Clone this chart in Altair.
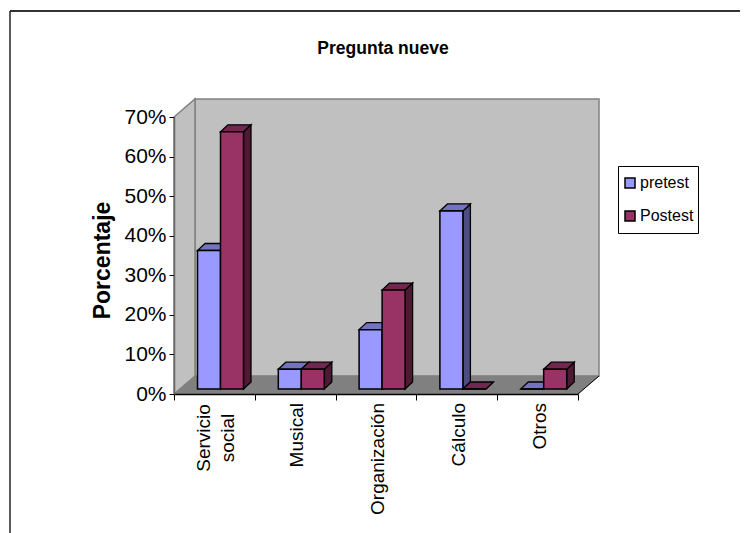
import altair as alt
import pandas as pd

categories = ["Servicio social", "Musical", "Organización", "Cálculo", "Otros"]
label_lines = [["Servicio", "social"], ["Musical"], ["Organización"], ["Cálculo"], ["Otros"]]
pretest = [0.35, 0.05, 0.15, 0.45, 0.0]
postest = [0.65, 0.05, 0.25, 0.0, 0.05]
series_names = ["pretest", "Postest"]
y_ticks = [0, 0.1, 0.2, 0.3, 0.4, 0.5, 0.6, 0.7]

PW, PH = 404, 277
YMAX = 0.7
px = 5 / PW        # category units per pixel
py = YMAX / PH     # value units per pixel

# oblique projection of the 3-D box
WALL_DX, WALL_DY = 21 * px, 18 * py
BAR_DX, BAR_DY = 7.5 * px, 7 * py
BASE_Y = 5 * py
BAR_W = 23 * px
GROUP_OFF = 23.5 * px


def bar_tables(values, slot):
    fronts, sides, tops = [], [], []
    for i, v in enumerate(values):
        x0 = i + GROUP_OFF + slot * BAR_W
        x1 = x0 + BAR_W
        y0 = BASE_Y
        y1 = BASE_Y + v
        fronts.append(dict(x=x0, x2=x1, y=y0, y2=y1, series=series_names[slot]))
        for j, k in ((x1, 0), (x1 + BAR_DX, 1)):
            sides.append(dict(id=i, x=j, y=y0 + k * BAR_DY, y2=y1 + k * BAR_DY))
        for k in (0, 1):
            tops.append(dict(id=i, y=y1 + k * BAR_DY, x=x0 + k * BAR_DX, x2=x1 + k * BAR_DX))
    return pd.DataFrame(fronts), pd.DataFrame(sides), pd.DataFrame(tops)


x_axis = alt.Axis(values=[0, 1, 2, 3, 4, 5], labels=False, title=None, grid=False, zindex=1,
                  tickColor="#000000", tickSize=6, tickWidth=1,
                  domainColor="#000000", domainWidth=1.5)
y_axis = alt.Axis(values=y_ticks, format=".0%", grid=False, title="Porcentaje", zindex=1,
                  titleFontSize=23, titleFontWeight="bold", titleFont="Liberation Sans",
                  titleColor="#000000", titlePadding=9, titleY=143,
                  labelFontSize=21, labelFont="Liberation Sans", labelColor="#000000",
                  labelPadding=3, tickColor="#000000", tickSize=5,
                  domainColor="#666666", domainWidth=1.5)
X = alt.X("x:Q", scale=alt.Scale(domain=[0, 5], nice=False), axis=x_axis)
Y = alt.Y("y:Q", scale=alt.Scale(domain=[0, YMAX], nice=False), axis=y_axis)

WALL = "#C0C0C0"
EDGE = "#808080"
back_wall = alt.Chart(pd.DataFrame([dict(x=WALL_DX, x2=5 + WALL_DX, y=WALL_DY, y2=YMAX + WALL_DY)])).mark_rect(
    fill=WALL, stroke=EDGE, strokeWidth=1.5).encode(x=X, x2="x2:Q", y=Y, y2="y2:Q")
left_wall = alt.Chart(pd.DataFrame([
    dict(x=0, y=0, y2=YMAX), dict(x=WALL_DX, y=WALL_DY, y2=YMAX + WALL_DY)
])).mark_area(fill=WALL, stroke=EDGE, strokeWidth=1.5).encode(x=X, y=Y, y2="y2:Q")
floor = alt.Chart(pd.DataFrame([
    dict(y=0, x=0, x2=5), dict(y=WALL_DY, x=WALL_DX, x2=5 + WALL_DX)
])).mark_area(orient="horizontal", fill=EDGE, stroke=EDGE, strokeWidth=0.5).encode(x=X, x2="x2:Q", y=Y)
floor_edge = alt.Chart(pd.DataFrame([dict(x=5, x2=5 + WALL_DX, y=0, y2=WALL_DY)])).mark_rule(
    color="#000000", strokeWidth=1).encode(x=X, x2="x2:Q", y=Y, y2="y2:Q")

fill_scale = alt.Scale(domain=series_names, range=["#9999FF", "#993366"])
top_cols = ["#7373BF", "#732650"]
side_cols = ["#4D4D80", "#4D1A33"]

bar_layers = []
for slot, vals in enumerate((pretest, postest)):
    f, s, t = bar_tables(vals, slot)
    bar_layers.append(alt.Chart(s).mark_area(fill=side_cols[slot], stroke="#000000", strokeWidth=1.3).encode(
        x=X, y=Y, y2="y2:Q", detail="id:N"))
    bar_layers.append(alt.Chart(t).mark_area(orient="horizontal", fill=top_cols[slot], stroke="#000000", strokeWidth=1.3).encode(
        x=X, x2="x2:Q", y=Y, detail="id:N"))
    bar_layers.append(alt.Chart(f).mark_bar(stroke="#000000", strokeWidth=1.5).encode(
        x=X, x2="x2:Q", y=Y, y2="y2:Q",
        fill=alt.Fill("series:N", scale=fill_scale, title=None,
                      legend=alt.Legend(orient="none", legendX=444, legendY=49, title=None))))

labels = pd.DataFrame({"x": [i + 0.5 for i in range(5)], "text": label_lines})
multi_df = labels[labels["text"].map(len) > 1].assign(x=lambda d: d["x"] - 10 * px)
single_df = labels[labels["text"].map(len) == 1].assign(
    text=lambda d: d["text"].str[0], x=lambda d: d["x"] + 2 * px)
multi = alt.Chart(multi_df).mark_text(
    angle=270, align="center", baseline="middle", fontSize=19, lineHeight=24,
    font="Liberation Sans", color="#000000").encode(
    x=X, y=alt.value(PH + 44), text="text")
single = alt.Chart(single_df).mark_text(
    angle=270, align="right", baseline="middle", fontSize=19,
    font="Liberation Sans", color="#000000").encode(
    x=X, y=alt.value(PH + 9), text="text:N")

frame_top = alt.Chart(pd.DataFrame({"a": [0]})).mark_rule(color="#333333", strokeWidth=2).encode(
    x=alt.value(-164), x2=alt.value(PW + 162), y=alt.value(-106))
frame_left = alt.Chart(pd.DataFrame({"a": [0]})).mark_rule(color="#222222", strokeWidth=1.5).encode(
    x=alt.value(-164), y=alt.value(-106), y2=alt.value(PH + 150))

chart = alt.layer(
    frame_top, frame_left, back_wall, left_wall, floor, floor_edge, *bar_layers, multi, single
).properties(
    width=PW, height=PH,
    autosize=alt.AutoSizeParams(type="none"),
    padding={"left": 166, "top": 109, "right": 162, "bottom": 139},
    title=alt.TitleParams("Pregunta nueve", fontSize=17.5, fontWeight="bold", font="Liberation Sans",
                          color="#000000", anchor="middle", frame="group", dx=7, offset=-47),
    background="#FFFFFF",
).configure_view(stroke=None).configure_legend(
    symbolType="square", symbolSize=100, symbolStrokeColor="#000000", symbolStrokeWidth=1.5,
    labelFont="Liberation Sans", labelFontSize=16, labelColor="#000000",
    strokeColor="#000000", fillColor="#FFFFFF", padding=4, rowPadding=7, labelOffset=2,
    clipHeight=26, labelLimit=80, symbolOffset=0,
)

chart.save("out.html", embed_options={"renderer": "svg", "actions": False})
